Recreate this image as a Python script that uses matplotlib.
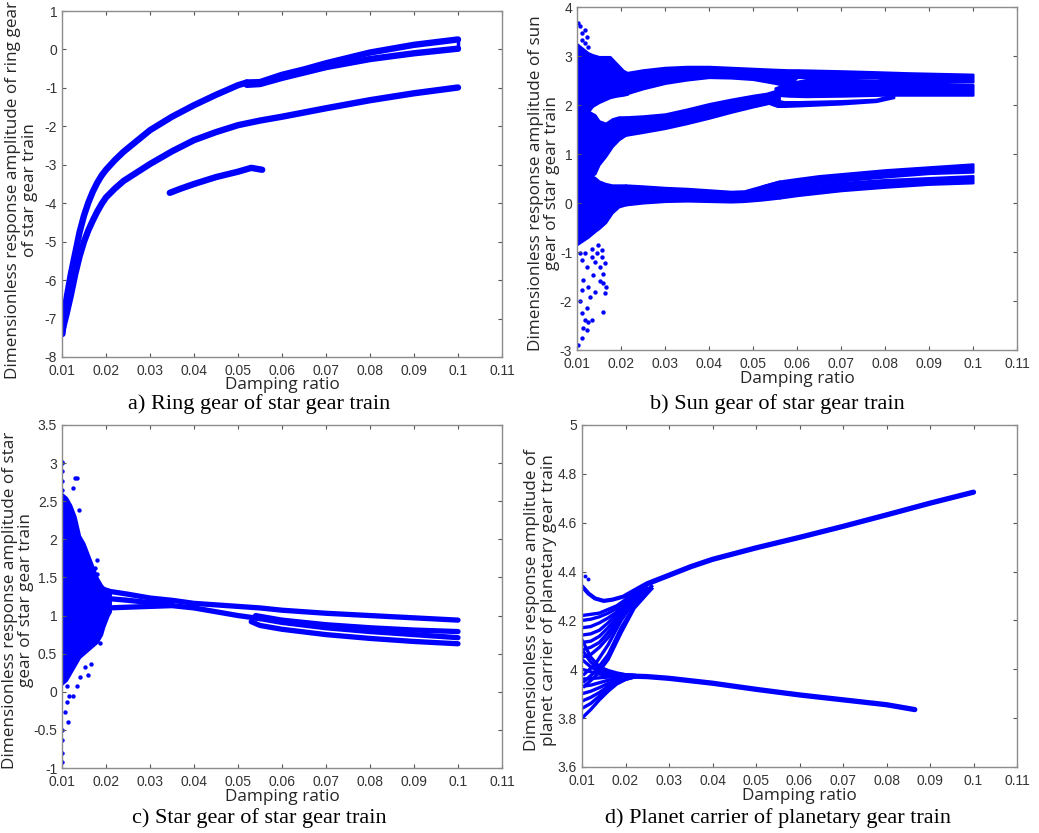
import numpy as np
import matplotlib
matplotlib.use("Agg")
import matplotlib.pyplot as plt
from matplotlib.ticker import FuncFormatter

BLUE = "#0000ff"

# ---------------- a) ring gear ----------------
a_up_x = [0.0101, 0.0105, 0.011, 0.012, 0.013, 0.014, 0.015, 0.016, 0.017, 0.018, 0.019, 0.02,
          0.022, 0.024, 0.027, 0.03, 0.035, 0.04, 0.045, 0.05, 0.052]
a_up_y = [-7.4, -6.95, -6.5, -5.85, -5.3, -4.75, -4.32, -3.98, -3.7, -3.47, -3.28, -3.13,
          -2.88, -2.66, -2.38, -2.1, -1.75, -1.45, -1.18, -0.93, -0.86]
a_pair_x = [0.052, 0.055, 0.06, 0.065, 0.07, 0.08, 0.09, 0.1]
a_pair1_y = [-0.86, -0.85, -0.66, -0.52, -0.36, -0.08, 0.12, 0.26]
a_pair2_y = [-0.92, -0.9, -0.74, -0.6, -0.46, -0.25, -0.1, 0.02]
a_lo_x = [0.0101, 0.011, 0.012, 0.013, 0.014, 0.015, 0.016, 0.017, 0.018, 0.019, 0.02, 0.022,
          0.024, 0.027, 0.03, 0.035, 0.04, 0.045, 0.05, 0.055, 0.06, 0.07, 0.08, 0.09, 0.1]
a_lo_y = [-7.3, -6.9, -6.4, -5.85, -5.38, -5.0, -4.7, -4.45, -4.22, -4.02, -3.85, -3.62,
          -3.42, -3.2, -2.98, -2.65, -2.36, -2.15, -1.97, -1.85, -1.75, -1.53, -1.32, -1.14, -0.99]
a_iso_x = [0.0345, 0.037, 0.04, 0.045, 0.05, 0.053, 0.0555]
a_iso_y = [-3.73, -3.62, -3.5, -3.32, -3.18, -3.08, -3.13]

# ---------------- b) sun gear ----------------
# chaotic region envelopes (x, lower, upper)
b_ch_top_x = [0.0100, 0.0125, 0.0135, 0.015, 0.0175, 0.019, 0.0205, 0.0215]
b_ch_top_lo = [1.8, 1.85, 1.97, 2.05, 2.15, 2.18, 2.2, 2.22]
b_ch_top_hi = [3.25, 3.07, 3.03, 2.99, 2.99, 2.85, 2.71, 2.66]
b_ch_mid_x = [0.0100, 0.0125, 0.0141, 0.015, 0.0165, 0.018, 0.0195, 0.021]
b_ch_mid_lo = [0.5, 0.5, 0.6, 0.78, 0.95, 1.15, 1.29, 1.38]
b_ch_mid_hi = [1.9, 1.88, 1.8, 1.68, 1.63, 1.72, 1.76, 1.76]
b_ch_low_x = [0.0100, 0.0125, 0.0141, 0.015, 0.0165, 0.018, 0.0195, 0.021]
b_ch_low_lo = [-0.85, -0.7, -0.58, -0.52, -0.4, -0.2, -0.08, -0.04]
b_ch_low_hi = [0.62, 0.6, 0.52, 0.45, 0.4, 0.37, 0.37, 0.37]
b_dots_x = [0.0103, 0.0107, 0.0111, 0.0118, 0.0122, 0.0111, 0.0118, 0.0126, 0.0103,
            0.0103, 0.0111, 0.0118, 0.0111, 0.0122, 0.0107, 0.013, 0.0141, 0.016, 0.0164,
            0.0167, 0.016, 0.0152, 0.0141, 0.0133, 0.0145, 0.0156, 0.0164, 0.0122, 0.0114,
            0.0111, 0.0126, 0.0137, 0.0152, 0.016, 0.0133, 0.0126, 0.0122, 0.0114, 0.0156,
            0.0148, 0.0133, 0.0118, 0.0111, 0.0107]
b_dots_y = [3.67, 3.61, 3.46, 3.53, 3.39, 3.33, 3.26, 3.19, 3.16,
            -2.9, -2.76, -2.39, -2.25, -2.15, -2.01, -1.91, -1.81, -1.64, -1.84,
            -1.71, -1.44, -1.3, -1.2, -1.1, -1.03, -0.96, -1.23, -1.3, -1.57,
            -1.78, -1.71, -1.47, -1.6, -2.23, -2.39, -2.42, -2.59, -2.56, -1.1,
            -0.86, -0.93, -1.03, -1.16, -1.03]
# periodic bands (x, lower, upper)
b_b1_x = [0.021, 0.025, 0.03, 0.035, 0.04, 0.045, 0.05, 0.055, 0.058, 0.06, 0.07, 0.078, 0.085, 0.1]
b_b1_lo = [2.22, 2.33, 2.44, 2.51, 2.56, 2.55, 2.52, 2.44, 2.38, 2.56, 2.56, 2.55, 2.48, 2.47]
b_b1_hi = [2.66, 2.72, 2.77, 2.79, 2.79, 2.77, 2.75, 2.73, 2.72, 2.72, 2.7, 2.68, 2.66, 2.63]
b_b2_x = [0.021, 0.025, 0.03, 0.035, 0.04, 0.045, 0.05, 0.053, 0.056]
b_b2_lo = [1.38, 1.44, 1.52, 1.62, 1.73, 1.85, 1.96, 2.02, 2.1]
b_b2_hi = [1.76, 1.78, 1.82, 1.92, 2.03, 2.12, 2.2, 2.24, 2.32]
b_bx_x = [0.055, 0.058, 0.062, 0.07, 0.08, 0.09, 0.1]
b_bx_lo = [2.2, 2.18, 2.17, 2.18, 2.2, 2.2, 2.2]
b_bx_hi = [2.35, 2.45, 2.52, 2.53, 2.5, 2.45, 2.42]
b_b3_x = [0.053, 0.0555, 0.057, 0.06, 0.07, 0.078, 0.082]
b_b3_lo = [2.05, 1.97, 1.97, 1.98, 2.02, 2.07, 2.15]
b_b3_hi = [2.18, 2.1, 2.07, 2.07, 2.09, 2.12, 2.22]
b_b4_x = [0.021, 0.025, 0.03, 0.035, 0.04, 0.045, 0.048, 0.052, 0.056]
b_b4_lo = [-0.04, 0.0, 0.03, 0.04, 0.03, 0.02, 0.03, 0.06, 0.1]
b_b4_hi = [0.37, 0.35, 0.32, 0.3, 0.27, 0.24, 0.25, 0.35, 0.45]
b_b5_x = [0.052, 0.056, 0.06, 0.065, 0.07, 0.08, 0.09, 0.1]
b_b5_lo = [0.2, 0.28, 0.33, 0.4, 0.45, 0.53, 0.6, 0.63]
b_b5_hi = [0.35, 0.45, 0.5, 0.56, 0.6, 0.68, 0.74, 0.8]
b_b6_x = [0.056, 0.06, 0.065, 0.07, 0.08, 0.09, 0.1]
b_b6_lo = [0.1, 0.15, 0.2, 0.25, 0.32, 0.38, 0.41]
b_b6_hi = [0.3, 0.33, 0.37, 0.42, 0.48, 0.52, 0.56]

# ---------------- c) star gear ----------------
c_ch_x = [0.0100, 0.011, 0.012, 0.013, 0.014, 0.015, 0.016, 0.017, 0.018, 0.019, 0.0195, 0.0205, 0.021]
c_ch_lo = [0.1, 0.15, 0.25, 0.35, 0.45, 0.5, 0.55, 0.6, 0.65, 0.75, 0.85, 1.0, 1.05]
c_ch_hi = [2.6, 2.55, 2.45, 2.3, 2.05, 1.95, 1.8, 1.65, 1.5, 1.4, 1.37, 1.35, 1.33]
c_dots_x = [0.01005, 0.0101, 0.0101, 0.0101, 0.0101, 0.0126, 0.013, 0.0133, 0.0139, 0.0101,
            0.01003, 0.0101, 0.01003, 0.0101, 0.0114, 0.0107, 0.0111, 0.0115, 0.0111, 0.0126,
            0.0133, 0.014, 0.0152, 0.016, 0.0167, 0.0186, 0.0179, 0.0179, 0.0176]
c_dots_y = [3.02, 3.0, 2.89, 2.76, 2.65, 2.67, 2.8, 2.8, 2.38, 2.49,
            -0.5, -0.63, -0.8, -0.92, -0.39, -0.26, -0.13, -0.06, 0.07, -0.06,
            0.07, 0.2, 0.33, 0.22, 0.37, 0.64, 1.73, 1.55, 1.62]
c_top_x = [0.0205, 0.025, 0.03, 0.035, 0.04, 0.045, 0.05, 0.055, 0.06, 0.07, 0.08, 0.09, 0.1]
c_top_y = [1.32, 1.28, 1.23, 1.2, 1.16, 1.14, 1.12, 1.1, 1.07, 1.03, 1.0, 0.97, 0.94]
c_mid_x = [0.021, 0.025, 0.03, 0.035]
c_mid_y = [1.22, 1.2, 1.17, 1.16]
c_low_x = [0.0205, 0.025, 0.03, 0.035, 0.04, 0.045, 0.05, 0.055]
c_low_y = [1.1, 1.11, 1.12, 1.13, 1.1, 1.05, 1.0, 0.96]
c_l2_x = [0.054, 0.06, 0.07, 0.08, 0.09, 0.1]
c_l2_y = [1.0, 0.94, 0.88, 0.84, 0.81, 0.79]
c_l3_x = [0.054, 0.06, 0.07, 0.08, 0.09, 0.1]
c_l3_y = [0.97, 0.91, 0.84, 0.79, 0.75, 0.71]
c_l4_x = [0.053, 0.055, 0.06, 0.07, 0.08, 0.09, 0.1]
c_l4_y = [0.92, 0.87, 0.82, 0.75, 0.7, 0.66, 0.63]

# ---------------- d) planet carrier ----------------
d_up_x = [0.02, 0.025, 0.03, 0.035, 0.04, 0.05, 0.06, 0.07, 0.08, 0.09, 0.1]
d_up_y = [4.3, 4.35, 4.385, 4.42, 4.45, 4.497, 4.54, 4.585, 4.632, 4.68, 4.725]
d_lo_x = [0.02, 0.025, 0.03, 0.04, 0.05, 0.06, 0.07, 0.08, 0.0865]
d_lo_y = [3.973, 3.97, 3.963, 3.943, 3.918, 3.895, 3.875, 3.855, 3.835]
d_fan_up_x = [0.0100, 0.012, 0.014, 0.016, 0.018, 0.02, 0.022, 0.025]
d_fan_up_y = [[4.22, 4.225, 4.23, 4.245, 4.26, 4.285, 4.305, 4.33],
              [4.2, 4.205, 4.215, 4.23, 4.25, 4.28, 4.3, 4.33],
              [4.17, 4.175, 4.19, 4.21, 4.235, 4.27, 4.3, 4.33],
              [4.14, 4.145, 4.16, 4.19, 4.225, 4.26, 4.29, 4.325],
              [4.11, 4.115, 4.135, 4.17, 4.21, 4.25, 4.285, 4.32],
              [4.08, 4.09, 4.11, 4.15, 4.195, 4.24, 4.28, 4.32],
              [4.05, 4.06, 4.09, 4.13, 4.18, 4.23, 4.275, 4.315]]
d_loop_x = [0.0100, 0.0115, 0.013, 0.015, 0.017, 0.02, 0.023]
d_loop_y = [4.34, 4.31, 4.29, 4.28, 4.285, 4.3, 4.32]
d_cross_x = [0.0105, 0.013, 0.016, 0.019, 0.022, 0.026]
d_cross_y = [[3.98, 4.02, 4.1, 4.2, 4.28, 4.34],
             [3.95, 3.99, 4.06, 4.17, 4.26, 4.33],
             [3.93, 3.97, 4.04, 4.15, 4.25, 4.33]]
d_fan_lo_x = [0.0100, 0.012, 0.014, 0.016, 0.018, 0.02, 0.022]
d_fan_lo_y = [[4.12, 4.05, 4.01, 3.995, 3.985, 3.978, 3.975],
              [4.08, 4.03, 4.0, 3.99, 3.982, 3.977, 3.975],
              [4.04, 4.01, 3.99, 3.983, 3.978, 3.975, 3.974],
              [4.0, 3.99, 3.98, 3.977, 3.975, 3.974, 3.973],
              [3.96, 3.962, 3.965, 3.968, 3.97, 3.972, 3.973],
              [3.93, 3.935, 3.945, 3.955, 3.963, 3.968, 3.971],
              [3.9, 3.91, 3.925, 3.942, 3.955, 3.964, 3.97],
              [3.87, 3.885, 3.905, 3.93, 3.948, 3.962, 3.969],
              [3.84, 3.86, 3.89, 3.92, 3.943, 3.96, 3.968],
              [3.8, 3.835, 3.875, 3.91, 3.94, 3.958, 3.968]]
d_dots_x = [0.0108, 0.0113]
d_dots_y = [4.38, 4.37]

x_ticks = [0.01, 0.02, 0.03, 0.04, 0.05, 0.06, 0.07, 0.08, 0.09, 0.1, 0.11]

plt.rcParams['font.family'] = ['Liberation Sans', 'DejaVu Sans']

fig = plt.figure(figsize=(10.39, 8.33), dpi=100)
W, H = 1039, 833


def make_ax(l, t, r, b):
    return fig.add_axes([l / W, 1 - b / H, (r - l) / W, (b - t) / H])


def style(ax, ylim, yticks, ylabel, coords):
    ax.set_xlim(0.01, 0.11)
    ax.set_ylim(*ylim)
    ax.set_xticks(x_ticks)
    ax.set_yticks(yticks)
    fmt = FuncFormatter(lambda v, p: "%g" % round(v, 4))
    ax.xaxis.set_major_formatter(fmt)
    ax.yaxis.set_major_formatter(fmt)
    ax.tick_params(direction='in', length=3, width=0.8, color='#555555',
                   labelcolor='#333333', labelsize=10, top=True, right=True)
    ax.tick_params(axis='x', pad=5)
    ax.tick_params(axis='y', pad=3.5)
    for s in ax.spines.values():
        s.set_color('#8c8c8c')
        s.set_linewidth(1.0)
    ax.set_xlabel('Damping ratio', fontsize=12.3, family='Open Sans', color='#262626', va='center')
    ax.xaxis.set_label_coords(0.5, coords[1])
    ax.set_ylabel(ylabel, fontsize=12.3, family='Open Sans', color='#262626',
                  va='center', linespacing=1.05)
    ax.yaxis.set_label_coords(coords[0], coords[2])


def band(ax, x, lo, hi):
    ax.fill_between(x, lo, hi, color=BLUE, lw=1.5, edgecolor=BLUE)


# a)
ax = make_ax(62, 11, 502, 357)
for xs, ys in [(a_up_x, a_up_y), (a_pair_x, a_pair1_y), (a_pair_x, a_pair2_y),
               (a_lo_x, a_lo_y), (a_iso_x, a_iso_y)]:
    ax.plot(xs, ys, color=BLUE, lw=4.6, solid_capstyle='round', solid_joinstyle='round')
ax.plot([0.1, 0.1], [a_pair2_y[-1], a_pair1_y[-1]], color=BLUE, lw=2.5)
style(ax, (-8, 1), range(-8, 2), 'Dimensionless response amplitude of ring gear\nof star gear train',
      (-0.092, -0.082, 0.483))

# b)
ax = make_ax(577, 7, 1017, 350)
band(ax, b_ch_top_x, b_ch_top_lo, b_ch_top_hi)
band(ax, b_ch_mid_x, b_ch_mid_lo, b_ch_mid_hi)
band(ax, b_ch_low_x, b_ch_low_lo, b_ch_low_hi)
for xs, lo, hi in [(b_b1_x, b_b1_lo, b_b1_hi), (b_b2_x, b_b2_lo, b_b2_hi), (b_bx_x, b_bx_lo, b_bx_hi),
                   (b_b3_x, b_b3_lo, b_b3_hi), (b_b4_x, b_b4_lo, b_b4_hi), (b_b5_x, b_b5_lo, b_b5_hi),
                   (b_b6_x, b_b6_lo, b_b6_hi)]:
    band(ax, xs, lo, hi)
ax.scatter(b_dots_x, b_dots_y, s=10, color=BLUE, lw=0)
style(ax, (-3, 4), range(-3, 5), 'Dimensionless response amplitude of sun\ngear of star gear train',
      (-0.075, -0.084, 0.487))

# c)
ax = make_ax(62, 425, 502, 768)
band(ax, c_ch_x, c_ch_lo, c_ch_hi)
ax.scatter(c_dots_x, c_dots_y, s=10, color=BLUE, lw=0)
for xs, ys in [(c_top_x, c_top_y), (c_mid_x, c_mid_y), (c_low_x, c_low_y),
               (c_l2_x, c_l2_y), (c_l3_x, c_l3_y), (c_l4_x, c_l4_y)]:
    ax.plot(xs, ys, color=BLUE, lw=3.8, solid_capstyle='round', solid_joinstyle='round')
style(ax, (-1, 3.5), np.arange(-1, 3.51, 0.5), 'Dimensionless response amplitude of star\ngear of star gear train',
      (-0.1, -0.085, 0.49))

# d)
ax = make_ax(582, 425, 1017, 767)
ax.plot(d_up_x, d_up_y, color=BLUE, lw=3.8, solid_capstyle='round')
ax.plot(d_lo_x, d_lo_y, color=BLUE, lw=3.8, solid_capstyle='round')
ax.plot(d_loop_x, d_loop_y, color=BLUE, lw=3.0, solid_capstyle='round')
for ys in d_fan_up_y:
    ax.plot(d_fan_up_x, ys, color=BLUE, lw=2.4)
for ys in d_cross_y:
    ax.plot(d_cross_x, ys, color=BLUE, lw=2.4)
for ys in d_fan_lo_y:
    ax.plot(d_fan_lo_x, ys, color=BLUE, lw=2.4)
ax.scatter(d_dots_x, d_dots_y, s=8, color=BLUE, lw=0)
style(ax, (3.6, 5), np.arange(3.6, 5.01, 0.2), 'Dimensionless response amplitude of\nplanet carrier of planetary gear train',
      (-0.095, -0.085, 0.488))

# captions
for cx, cy, txt in [(259, 404, 'a) Ring gear of star gear train'),
                    (777, 404, 'b) Sun gear of star gear train'),
                    (259, 818, 'c) Star gear of star gear train'),
                    (778, 818, 'd) Planet carrier of planetary gear train')]:
    fig.text(cx / W, 1 - cy / H, txt, ha='center', va='center', fontsize=16,
             family='Liberation Serif', color='black')

fig.savefig('out.png', dpi=100)
